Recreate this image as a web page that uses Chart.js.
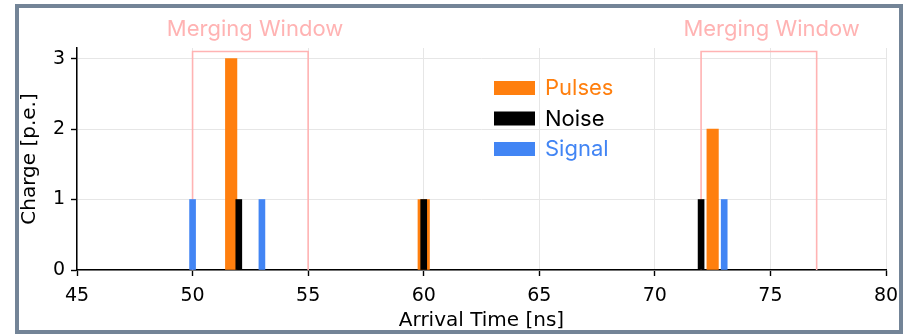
<!DOCTYPE html>
<html>
<head>
<meta charset="utf-8">
<script src="https://cdn.jsdelivr.net/npm/chart.js@4"></script>
<style>
  body { margin: 0; background: #fff; }
  .card {
    position: absolute;
    left: 15px;
    top: 4px;
    width: 880px;
    height: 322px;
    border: 4px solid #738497;
    background: #fff;
  }
  .card div { position: relative; width: 880px; height: 322px; }
</style>
</head>
<body>
<div class="card"><div><canvas id="chart-hits"></canvas></div></div>
<script>
// Arrival times [ns] and charges [p.e.]
const pulseTimes = [51.67, 60, 72.5];
const pulseCharges = [3, 1, 2];
const noiseTimes = [52, 60, 72];
const noiseCharges = [1, 1, 1];
const signalTimes = [50, 53, 73];
const signalCharges = [1, 1, 1];

// Merging windows [ns]
const windowStarts = [50, 72];
const windowEnds = [55, 77];
const windowTop = 3.1;
const windowLabels = ["Merging Window", "Merging Window"];

const xTicks = [45, 50, 55, 60, 65, 70, 75, 80];
const yTicks = [0, 1, 2, 3];

const ORANGE = "#ff7f0e";
const BLUE = "#4285f4";
const PINK = "#ffb3b3";

function points(xs, ys) {
  return xs.map((x, i) => ({ x: x, y: ys[i] }));
}

// rectangle outline of each merging window, open at the bottom
const windowSets = windowStarts.map((s, i) => ({
  type: "line",
  label: windowLabels[i],
  data: [
    { x: s, y: 0 },
    { x: s, y: windowTop },
    { x: windowEnds[i], y: windowTop },
    { x: windowEnds[i], y: 0 },
  ],
  borderColor: PINK,
  borderWidth: 1.6,
  pointRadius: 0,
  tension: 0,
  fill: false,
  order: 10,
  isWindow: true,
}));

// window captions above the plot
const windowTextPlugin = {
  id: "windowText",
  afterDraw(chart, args, opts) {
    const ctx = chart.ctx;
    const x = chart.scales.x;
    ctx.save();
    ctx.font = "22px Inter";
    ctx.fillStyle = PINK;
    ctx.textAlign = "center";
    ctx.textBaseline = "alphabetic";
    windowLabels.forEach((t, i) => {
      ctx.fillText(t, x.getPixelForValue(opts.centers[i]), 28);
    });
    ctx.restore();
  },
};

// legend with coloured text
const legendPlugin = {
  id: "boxLegend",
  afterDraw(chart) {
    const ctx = chart.ctx;
    const items = chart.data.datasets.filter((d) => !d.isWindow);
    ctx.save();
    ctx.font = "22px Inter";
    ctx.textBaseline = "middle";
    items.forEach((d, i) => {
      const y = 73 + i * 30.5;
      ctx.fillStyle = d.backgroundColor;
      ctx.fillRect(475, y, 41, 14);
      ctx.fillStyle = d.legendText;
      ctx.fillText(d.label, 526, y + 7.5);
    });
    ctx.restore();
  },
};

const ctx = document.getElementById("chart-hits").getContext("2d");

new Chart(ctx, {
  type: "bar",
  data: {
    datasets: [
      {
        label: "Pulses",
        data: points(pulseTimes, pulseCharges),
        backgroundColor: ORANGE,
        legendText: ORANGE,
        barThickness: 11.5,
        order: 3,
      },
      {
        label: "Noise",
        data: points(noiseTimes, noiseCharges),
        backgroundColor: "#000000",
        legendText: "#000000",
        barThickness: 6,
        order: 2,
      },
      {
        label: "Signal",
        data: points(signalTimes, signalCharges),
        backgroundColor: BLUE,
        legendText: BLUE,
        barThickness: 6,
        order: 1,
      },
    ].concat(windowSets),
  },
  options: {
    responsive: true,
    maintainAspectRatio: false,
    animation: false,
    grouped: false,
    layout: {
      padding: { top: 40, right: 13, bottom: 0, left: 0 },
    },
    plugins: {
      legend: { display: false },
      tooltip: { enabled: false },
      windowText: { centers: [52.7, 75.05] },
    },
    scales: {
      x: {
        type: "linear",
        offset: false,
        min: 45,
        max: 80,
        afterBuildTicks: (scale) => {
          scale.ticks = xTicks.map((v) => ({ value: v }));
        },
        afterFit: (scale) => {
          scale.height = 60;
          scale.paddingLeft = 0;
          scale.paddingRight = 0;
        },
        grid: {
          offset: false,
          color: "#e6e6e6",
          lineWidth: 1,
          drawTicks: true,
          tickLength: 6,
          tickColor: "#000",
          tickWidth: 1.4,
        },
        border: { color: "#000", width: 1.5 },
        ticks: {
          color: "#000",
          padding: 9,
          maxRotation: 0,
          font: { family: "DejaVu Sans", size: 19 },
        },
        title: {
          display: true,
          text: "Arrival Time [ns]",
          color: "#000",
          padding: { top: 0, bottom: 0 },
          font: { family: "DejaVu Sans", size: 20, lineHeight: 0.9 },
        },
      },
      y: {
        min: 0,
        max: 3.15,
        afterBuildTicks: (scale) => {
          scale.ticks = yTicks.map((v) => ({ value: v }));
        },
        afterFit: (scale) => {
          scale.width = 58;
        },
        grid: {
          color: "#e6e6e6",
          lineWidth: 1,
          drawTicks: true,
          tickLength: 6,
          tickColor: "#000",
          tickWidth: 1.4,
        },
        border: { color: "#000", width: 1.5 },
        ticks: {
          color: "#000",
          padding: 6,
          font: { family: "DejaVu Sans", size: 19 },
        },
        title: {
          display: true,
          text: "Charge [p.e.]",
          color: "#000",
          padding: { top: 0, bottom: 0 },
          font: { family: "DejaVu Sans", size: 20, lineHeight: 1.1 },
        },
      },
    },
  },
  plugins: [windowTextPlugin, legendPlugin],
});
</script>
</body>
</html>
